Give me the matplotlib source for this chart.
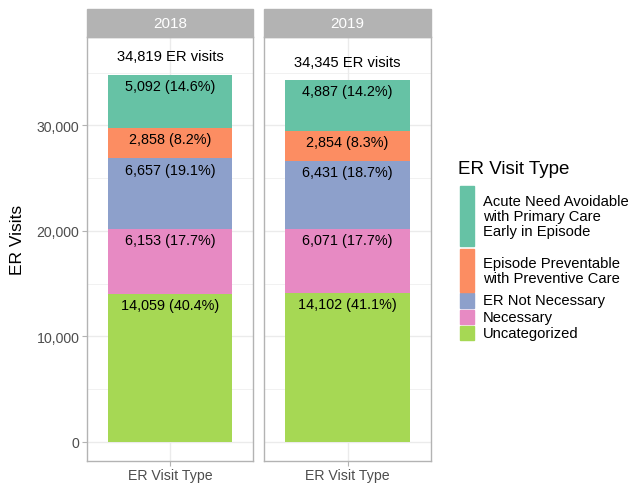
import matplotlib.pyplot as plt
from matplotlib.patches import Rectangle
from matplotlib.ticker import FuncFormatter
import numpy as np

plt.rcParams['font.family'] = ['Liberation Sans', 'DejaVu Sans']

years = ['2018', '2019']
# stacking order, bottom to top
types = ['Uncategorized', 'Necessary', 'ER Not Necessary',
         'Episode Preventable\nwith Preventive Care',
         'Acute Need Avoidable\nwith Primary Care\nEarly in Episode']
visits_2018 = [14059, 6153, 6657, 2858, 5092]
visits_2019 = [14102, 6071, 6431, 2854, 4887]
colors = ['#A6D854', '#E78AC3', '#8DA0CB', '#FC8D62', '#66C2A5']

data = [visits_2018, visits_2019]
grid_col = '#EBEBEB'
border_col = '#B3B3B3'

fig = plt.figure(figsize=(6.32, 4.85), dpi=100)
W, H = 632, 485

def fx(px):
    return px / W

def fy(py):
    return 1 - py / H

panel_x = [(87, 253), (264, 431)]
top, bottom = 38, 462
ymax_total = max(sum(d) for d in data) * 1.05
ylo, yhi = -0.05 * ymax_total, ymax_total * 1.05

axes = []
for i, (yr, vals) in enumerate(zip(years, data)):
    x0, x1 = panel_x[i]
    ax = fig.add_axes([fx(x0), fy(bottom), fx(x1 - x0), fy(top) - fy(bottom)])
    axes.append(ax)
    ax.set_xlim(-0.6, 0.6)
    ax.set_ylim(ylo, yhi)

    # grid
    for v in np.arange(0, 40000, 5000):
        ax.axhline(v, color=grid_col, lw=0.5 if v % 10000 else 1.0, zorder=0)
    ax.axvline(0, color=grid_col, lw=1.0, zorder=0)

    total = sum(vals)
    cum = 0
    for v, c in zip(vals, colors):
        ax.bar(0, v, bottom=cum, width=0.9, color=c, zorder=2)
        cum += v
        ax.annotate(f'{v:,} ({v / total * 100:.1f}%)', xy=(0, cum),
                    xytext=(0, -3), textcoords='offset points',
                    ha='center', va='top', fontsize=10.4, color='black', zorder=3)
    ax.text(0, total * 1.05, f'{total:,} ER visits', ha='center', va='center',
            fontsize=10.6, color='black')

    for s in ax.spines.values():
        s.set_color(border_col)
        s.set_linewidth(1.0)
    ax.set_xticks([0])
    ax.set_xticklabels(['ER Visit Type'], fontsize=10.2, color='#4D4D4D')
    ax.set_yticks([0, 10000, 20000, 30000])
    ax.tick_params(color=border_col, length=3.5, width=0.8)
    ax.tick_params(axis='x', pad=1.5)
    if i == 0:
        ax.yaxis.set_major_formatter(FuncFormatter(lambda v, p: f'{int(v):,}'))
        ax.tick_params(axis='y', labelsize=10.2, labelcolor='#4D4D4D', pad=2)
    else:
        ax.tick_params(axis='y', left=False, labelleft=False)

    # strip
    fig.patches.append(Rectangle((fx(x0), fy(top)), fx(x1 - x0), fy(10) - fy(top),
                                 transform=fig.transFigure, color=border_col, zorder=5))
    fig.text(fx((x0 + x1) / 2), fy(24), yr, ha='center', va='center',
             color='white', fontsize=11, zorder=6)

fig.text(fx(18), fy(240), 'ER Visits', rotation=90, ha='center', va='center', fontsize=12.5)

# legend
fig.text(fx(458), fy(170), 'ER Visit Type', ha='left', va='center', fontsize=13.5)
key_spans = [(327, 341), (311, 325), (294, 309), (250, 293), (187, 247)]
for lab, c, (k0, k1) in zip(types, colors, key_spans):
    fig.patches.append(Rectangle((fx(460), fy(k1)), fx(14), fy(k0) - fy(k1),
                                 transform=fig.transFigure, color=c))
    fig.text(fx(483), fy((k0 + k1) / 2), lab, ha='left', va='center',
             fontsize=10.6, linespacing=1.05)

fig.savefig('out.png', dpi=100)
